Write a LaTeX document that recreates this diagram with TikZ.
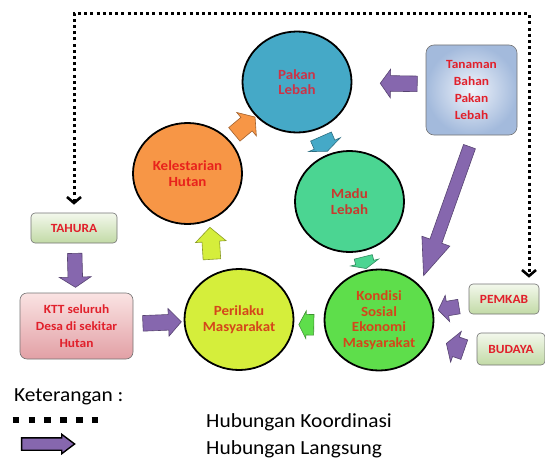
\documentclass[tikz,border=0pt]{standalone}
\usepackage{fontspec}
\setmainfont{Carlito}[FakeStretch=1.07]
\usetikzlibrary{arrows.meta,positioning,calc,shapes.geometric,shapes.arrows}
\definecolor{pakanblue}{HTML}{45A9C7}
\definecolor{hutanorange}{HTML}{F79646}
\definecolor{madugreen}{HTML}{4BD592}
\definecolor{perilakulime}{HTML}{D5EE3B}
\definecolor{kondisigreen}{HTML}{5EDE4B}
\definecolor{panahungu}{HTML}{8667AE}
\definecolor{merahteks}{HTML}{E1202B}
\definecolor{pakanteks}{HTML}{CC3347}
\definecolor{hutanteks}{HTML}{E8221C}
\definecolor{maduteks}{HTML}{C83A2E}
\definecolor{sosialteks}{HTML}{D4461A}
\definecolor{hijauatas}{HTML}{F3F8EC}
\definecolor{hijaubawah}{HTML}{C2DAA6}
\definecolor{merahatas}{HTML}{FAE3E3}
\definecolor{merahbawah}{HTML}{E2A0A5}
\definecolor{biruterang}{HTML}{F0F4FB}
\definecolor{birugelap}{HTML}{A3BADC}

\begin{document}
\begin{tikzpicture}[
    x=1pt,y=-1pt,
    circ/.style={ellipse,draw,line width=1.8pt,minimum width=109pt,minimum height=101pt,inner sep=0pt,align=center,font=\fontsize{14}{15.6}\selectfont\bfseries},
    box/.style={draw=black!55,line width=0.6pt,rounded corners=4pt,inner sep=0pt,align=center,text=merahteks,font=\fontsize{12.5}{16.8}\selectfont\bfseries},
    hijaubox/.style={box,top color=hijauatas,bottom color=hijaubawah},
    fatarr/.style={single arrow,single arrow head indent=0pt,fill=#1,draw=#1!65!black,line width=0.6pt,inner sep=0pt,sloped,allow upside down},
    ukuran/.style n args={5}{minimum height=#1,minimum width=#2,inner ysep=#3,single arrow head extend=#4,single arrow tip angle=#5},
    koordline/.style={line width=3pt,dash pattern=on 3pt off 3.2pt},
    >={Straight Barb[length=6pt,width=14pt,line width=2.6pt]}
]
\useasboundingbox (0,0) rectangle (545,460);

% lingkaran
\node[circ,fill=pakanblue,text=pakanteks] (pak) at (297,82) {Pakan\\Lebah};
\node[circ,fill=hutanorange,text=hutanteks] (kel) at (187.5,173.5) {Kelestarian\\Hutan};
\node[circ,fill=madugreen,text=maduteks] (madu) at (349.5,201.5) {Madu\\Lebah};
\node[circ,fill=perilakulime,text=sosialteks] (peri) at (239,319.5) {Perilaku\\Masyarakat};
\node[circ,fill=kondisigreen,text=sosialteks] (kon) at (379,320) {Kondisi\\Sosial\\Ekonomi\\Masyarakat};

% kotak
\node[box,inner color=biruterang,outer color=birugelap,minimum width=91pt,minimum height=90pt,rounded corners=8pt] (tan) at (471.5,90) {Tanaman\\Bahan\\Pakan\\Lebah};
\node[hijaubox,minimum width=86pt,minimum height=30pt] (tah) at (74,228) {TAHURA};
\node[box,top color=merahatas,bottom color=merahbawah,minimum width=113pt,minimum height=66pt,rounded corners=7pt] (ktt) at (76.5,326) {KTT seluruh\\Desa di sekitar\\Hutan};
\node[hijaubox,minimum width=70pt,minimum height=30pt] (pem) at (504,299) {PEMKAB};
\node[hijaubox,minimum width=68pt,minimum height=32pt] (bud) at (511,349) {BUDAYA};

% hubungan koordinasi
\coordinate (ktr) at (529,13.5);
\coordinate (kbawah) at ($(ktr |- pem.north)+(0,-6)$);
\draw[koordline,<->] ([yshift=8pt]tah.north) |- (ktr) -- (kbawah);

% hubungan langsung
\path ([yshift=6pt]tan.west) -- node[fatarr=panahungu,pos=0.33,ukuran={37pt}{28pt}{7.5pt}{6.5pt}{109}] (p1) {} (pak);
\path ([xshift=2pt]tan.south) -- node[fatarr=panahungu,pos=0.456,ukuran={137pt}{29pt}{6pt}{8.5pt}{44}] (p2) {} (kon.40);
\path (tah) -- node[fatarr=panahungu,ukuran={34pt}{31pt}{7pt}{8.5pt}{114}] (p3) {} (ktt);
\path (ktt) -- node[fatarr=panahungu,ukuran={38.5pt}{27pt}{7.5pt}{6pt}{94}] (p4) {} (peri);
\path (pem) -- node[fatarr=panahungu,ukuran={21pt}{26pt}{7pt}{6pt}{110}] (p5) {} (kon);
\path ([yshift=-5pt]bud.west) -- node[fatarr=panahungu,pos=0.4,ukuran={19pt}{32pt}{10pt}{6pt}{116}] (p6) {} (kon);

% siklus
\path (kel) -- node[fatarr=hutanorange,ukuran={27pt}{30pt}{8.5pt}{6.5pt}{108}] (s1) {} (pak);
\path (pak) -- node[fatarr=pakanblue,ukuran={16pt}{34pt}{11pt}{6pt}{135}] (s2) {} (madu);
\path (madu) -- node[fatarr=madugreen,ukuran={12pt}{28pt}{9pt}{5pt}{133}] (s3) {} (kon);
\path ([yshift=-5pt]kon.west) -- node[fatarr=kondisigreen,ukuran={15pt}{27pt}{10pt}{3.5pt}{125}] (s4) {} ([yshift=-5pt]peri.east);
\path (peri.120) -- node[fatarr=perilakulime,ukuran={32pt}{30pt}{8.5pt}{6.5pt}{94}] (s5) {} (kel.-65);

% keterangan
\node[anchor=base west,inner sep=0pt,font=\fontsize{20}{24}\selectfont] (ket) at (14,401) {Keterangan :};
\coordinate (titikA) at (12.7,420);
\coordinate (titikB) at (98.3,420);
\draw[line width=6.6pt,dash pattern=on 6.6pt off 9.2pt] (titikA) -- (titikB);
\node[single arrow,single arrow head indent=0pt,fill=panahungu,draw=black,line width=1.4pt,inner sep=0pt,ukuran={53pt}{18pt}{5.5pt}{3.5pt}{74}] (legarr) at (44,444) {};
\node[anchor=base west,inner sep=0pt,font=\fontsize{20}{24}\selectfont] (kkoor) at (206,427) {Hubungan Koordinasi};
\node[anchor=base west,inner sep=0pt,font=\fontsize{20}{24}\selectfont] (klang) at (206,454) {Hubungan Langsung};
\end{tikzpicture}
\end{document}
